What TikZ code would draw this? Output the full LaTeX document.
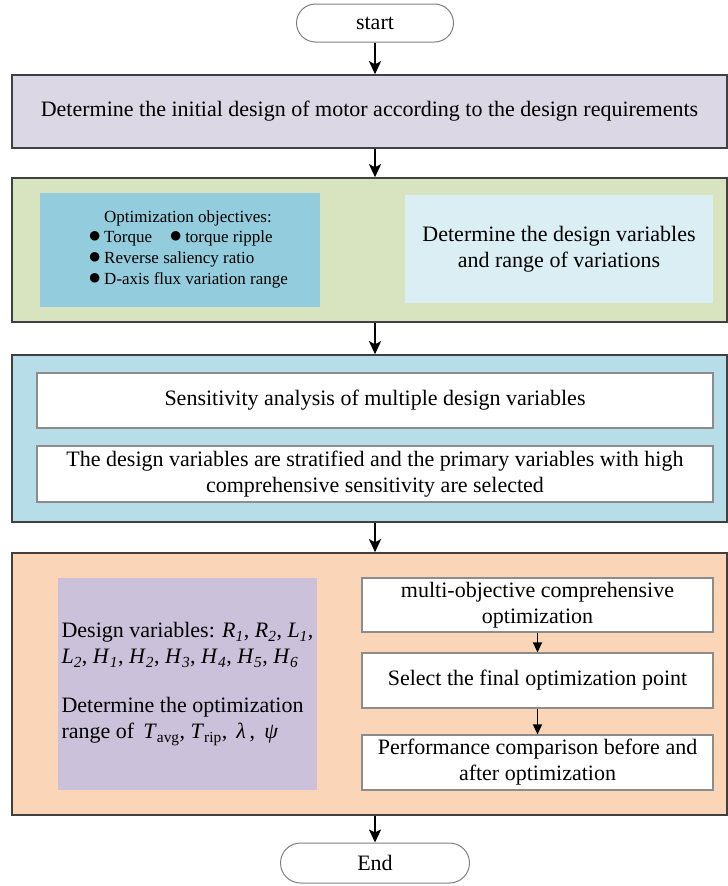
\documentclass[tikz,border=0pt]{standalone}
\usepackage{fontspec}
\setmainfont{Liberation Serif}
\usepackage{tikz}
\usetikzlibrary{arrows.meta, shapes.misc}

\definecolor{initfill}{HTML}{DCD7E4}
\definecolor{definefill}{HTML}{D8E3BF}
\definecolor{goalfill}{HTML}{93CDDD}
\definecolor{varfill}{HTML}{DBEEF4}
\definecolor{screenfill}{HTML}{B7DEE8}
\definecolor{optimfill}{HTML}{FBD5B7}
\definecolor{rangefill}{HTML}{CCC1DA}

\newcommand{\desvar}[2]{\textit{#1}\textsubscript{\textit{#2}}}
\newcommand{\dotitem}{\smash{\fontsize{22}{20}\selectfont●}\,}

\tikzset{
    stage/.style={draw=black!75, line width=1.6pt, minimum width=715pt, inner sep=0pt, align=center},
    panel/.style={inner sep=0pt, align=center},
    task/.style={draw=black!45, fill=white, line width=1.2pt, inner sep=0pt, align=center},
    terminal/.style={rounded rectangle, draw=black!50, fill=white, line width=1pt, inner sep=0pt},
    flow/.style={line width=2.2pt, -{Stealth[length=13pt, width=12pt, inset=3pt]}},
    subflow/.style={line width=1.3pt, -{Triangle[length=10pt, width=9pt]}}
}

\begin{document}
\begin{tikzpicture}[x=1pt, y=-1pt, font=\fontsize{22}{26}\selectfont]
    \useasboundingbox (0,0) rectangle (728,886);

    \node[terminal, minimum width=157pt, minimum height=38pt] (start) at (375,23) {start};
    \node[stage, fill=initfill, minimum height=73pt] (init) at (369.5,111.5)
        {Determine the initial design of motor according to the design requirements};

    \node[stage, fill=definefill, minimum height=144pt] (define) at (369.5,250) {};
    \node[panel, fill=goalfill, minimum width=280pt, minimum height=114pt] (goals) at (180,250) {};
    \node[font=\fontsize{17}{20.7}\selectfont, inner sep=0pt] (goaltext) at (188,249)
        {\begin{tabular}{@{}l@{}}
            \multicolumn{1}{@{}c@{}}{Optimization objectives:}\\
            \dotitem Torque\quad\dotitem torque ripple\\
            \dotitem Reverse saliency ratio\\
            \dotitem D-axis flux variation range
        \end{tabular}};
    \node[panel, fill=varfill, minimum width=308pt, minimum height=108pt] (vars) at (559,249)
        {Determine the design variables\\and range of variations};

    \node[stage, fill=screenfill, minimum height=167pt] (screen) at (369.5,438.5) {};
    \node[task, minimum width=676pt, minimum height=55pt] (sens) at (375,400.5)
        {Sensitivity analysis of multiple design variables};
    \node[task, minimum width=676pt, minimum height=56pt] (strat) at (375,474)
        {The design variables are stratified and the primary variables with high\\comprehensive sensitivity are selected};

    \node[stage, fill=optimfill, minimum height=262pt] (optim) at (369.5,684) {};
    \node[panel, fill=rangefill, minimum width=259pt, minimum height=212pt, align=left] (range) at (187.5,684)
        {Design variables: \desvar{R}{1}, \desvar{R}{2}, \desvar{L}{1},\\
         \desvar{L}{2}, \desvar{H}{1}, \desvar{H}{2}, \desvar{H}{3}, \desvar{H}{4}, \desvar{H}{5}, \desvar{H}{6}\\[23pt]
         Determine the optimization\\
         range of \,\textit{T}\textsubscript{avg}, \textit{T}\textsubscript{rip}, \,\textit{λ}\,, \,\textit{ψ}};
    \node[task, minimum width=351pt, minimum height=54pt] (multi) at (537.5,605)
        {multi-objective comprehensive\\optimization};
    \node[task, minimum width=351pt, minimum height=55pt] (select) at (537.5,680.5)
        {Select the final optimization point};
    \node[task, minimum width=351pt, minimum height=55pt] (compare) at (537.5,762.5)
        {Performance comparison before and\\after optimization};

    \node[terminal, minimum width=189pt, minimum height=40pt] (finish) at (375,863) {End};

    \draw[flow] (start.south) -- (start.south |- init.north);
    \draw[flow] (start.south |- init.south) -- (start.south |- define.north);
    \draw[flow] (start.south |- define.south) -- (start.south |- screen.north);
    \draw[flow] (start.south |- screen.south) -- (start.south |- optim.north);
    \draw[flow] (start.south |- optim.south) -- (finish.north);
    \draw[subflow] (multi.south) -- (select.north);
    \draw[subflow] (select.south) -- (compare.north);
\end{tikzpicture}
\end{document}
